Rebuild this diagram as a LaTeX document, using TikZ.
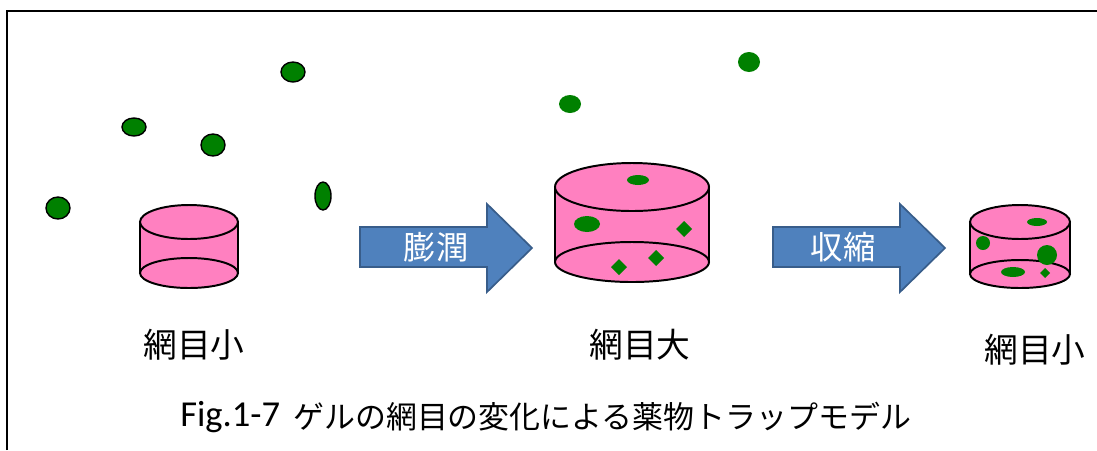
\documentclass[tikz,border=0pt]{standalone}
\usepackage{fontspec}
\setmainfont{Carlito}
\newfontfamily\jp{Noto Sans CJK JP}
\usepackage{tikz}

\definecolor{gelpink}{RGB}{255,128,192}
\definecolor{drug}{RGB}{0,128,0}
\definecolor{arrowblue}{RGB}{79,129,189}
\definecolor{arrowedge}{RGB}{56,93,138}

% gel cylinder: centre x, top y, bottom y, x radius, top y radius, bottom y radius
\newcommand{\gelcyl}[6]{%
	\fill[gelpink] (#1-#4,#2) rectangle (#1+#4,#3);
	\draw[gel] (#1,#3) ellipse [x radius=#4, y radius=#6];
	\draw[gel] (#1,#2) ellipse [x radius=#4, y radius=#5];
	\draw[line width=1.4pt] (#1-#4,#2) -- (#1-#4,#3) (#1+#4,#2) -- (#1+#4,#3);
}
% block arrow: left end x, start of head x
\newcommand{\blockarrow}[2]{%
	\draw[bigarrow] (#1,227) -- (#2,227) -- (#2,204) -- (#2+45,248) -- (#2,292) -- (#2,267) -- (#1,267) -- cycle;
}

\begin{document}
\begin{tikzpicture}[x=0.025cm,y=-0.025cm,
		gel/.style={fill=gelpink,draw=black,line width=1.4pt},
		drop/.style={fill=drug,draw=black,line width=1pt},
		bigarrow/.style={fill=arrowblue,draw=arrowedge,line width=1.2pt,line join=miter},
		caption/.style={font=\jp\fontsize{24}{28}\selectfont,inner sep=0pt}]
	\useasboundingbox (0,0) rectangle (1097,450);
	\draw[line width=1.4pt] (7,450) -- (7,11) -- (1097,11);
	
	% small mesh: drug outside the gel
	\gelcyl{189}{222}{273}{49}{17}{15}
	\foreach \x/\y/\a/\b in {293/72/12/10,134/127/12/9,213/145/12/11,58/208/12/11,323/196/8/14}
	\draw[drop] (\x,\y) ellipse [x radius=\a, y radius=\b];
	
	% swollen gel: drug goes in
	\gelcyl{632}{187}{262}{77}{24}{20}
	\foreach \x/\y/\a/\b in {570/104/11/9,749/62/11/10,638/180/11/5,587/224/13/8}
	\fill[drug] (\x,\y) ellipse [x radius=\a, y radius=\b];
	\foreach \x/\y in {684/229,619/267,656/258}
	\fill[drug] (\x,\y-8) -- (\x+8,\y) -- (\x,\y+8) -- (\x-8,\y) -- cycle;
	
	% shrunk gel: drug trapped
	\gelcyl{1020}{222}{274}{50}{17}{14}
	\foreach \x/\y/\a/\b in {1037/222/10/4,983/243/7/7,1047/255/10/10,1013/272/12/5}
	\fill[drug] (\x,\y) ellipse [x radius=\a, y radius=\b];
	\fill[drug] (1045,268) -- (1050,273) -- (1045,278) -- (1040,273) -- cycle;
	
	\blockarrow{360}{487}
	\blockarrow{773}{900}
	\node[caption,text=white,font=\jp\fontsize{23}{26}\selectfont] (swell) at (436,247) {膨潤};
	\node[caption,text=white,font=\jp\fontsize{23}{26}\selectfont] (shrink) at (843,247) {収縮};
	
	\node[caption] (mesh1) at (194,345) {網目小};
	\node[caption] (mesh2) at (640,345) {網目大};
	\node[caption] (mesh3) at (1035,350) {網目小};
	
	\node[inner sep=0pt,anchor=west,font=\fontsize{26}{30}\selectfont] (figno) at (180,417) {Fig.1-7};
	\node[caption,anchor=west,font=\jp\fontsize{22}{26}\selectfont] (title) at (293,417) {ゲルの網目の変化による薬物トラップモデル};
\end{tikzpicture}
\end{document}
